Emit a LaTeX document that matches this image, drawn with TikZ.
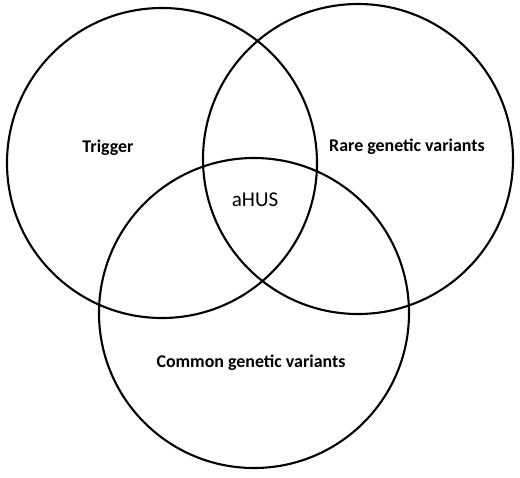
\documentclass[tikz,border=0pt]{standalone}
\usepackage{fontspec}
\setmainfont{Carlito}
\begin{document}
\begin{tikzpicture}
        [x=0.02cm,y=-0.02cm,every node/.style={font=\fontsize{10.2}{12}\selectfont\bfseries}]
        \useasboundingbox (0,0) rectangle (520,477);
        \foreach \cx/\cy in {162/163,358/159,254/313}
          \draw[line width=1.2pt] (\cx,\cy) circle (155);
        \node (trig) at (108,148) {Trigger};
        \node (rare) at (407,147) {Rare genetic variants};
        \node[font=\fontsize{12}{14}\selectfont] (ahus) at (255,200) {aHUS};
        \node (comm) at (251,363) {Common genetic variants};
      \end{tikzpicture}
\end{document}
